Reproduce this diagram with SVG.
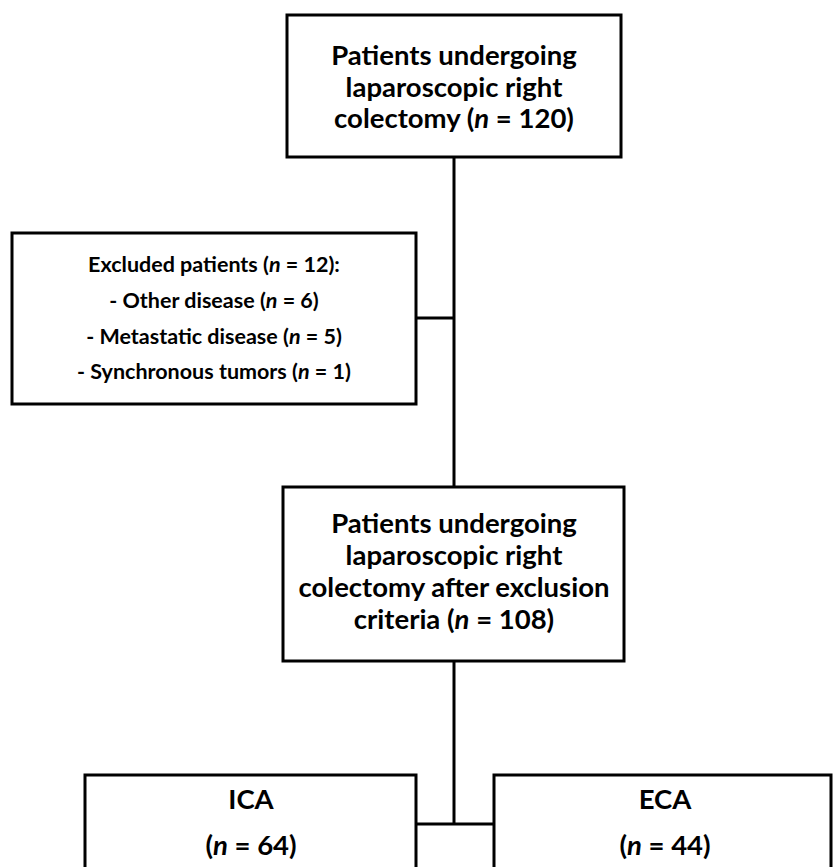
<svg xmlns="http://www.w3.org/2000/svg" width="833" height="867" viewBox="0 0 833 867">
<style>
.box{fill:#fff;stroke:#000;stroke-width:3}
.ln{fill:none;stroke:#000;stroke-width:3}
text{font-family:Lato,"Open Sans","Liberation Sans",sans-serif;font-weight:bold;fill:#000;text-anchor:middle}
.big{font-size:27.5px}
.sm{font-size:21.5px}
</style>
<rect width="833" height="867" fill="#fff"/>
<g id="connectors">
<path class="ln" d="M454,157 V487"/>
<path class="ln" d="M416,318 H454"/>
<path class="ln" d="M454,661 V824"/>
<path class="ln" d="M416,824 H494"/>
</g>
<g id="top">
<rect class="box" x="287" y="15" width="334" height="142"/>
<text class="big" x="454" y="65">Patients undergoing</text>
<text class="big" x="454" y="97">laparoscopic right</text>
<text class="big" x="454" y="128">colectomy (<tspan font-style="italic">n</tspan> = 120)</text>
</g>
<g id="excluded">
<rect class="box" x="12" y="233" width="404" height="171"/>
<text class="sm" x="214" y="272">Excluded patients (<tspan font-style="italic">n</tspan> = 12):</text>
<text class="sm" x="214" y="308">- Other disease (<tspan font-style="italic">n</tspan> = 6)</text>
<text class="sm" x="214" y="344">- Metastatic disease (<tspan font-style="italic">n</tspan> = 5)</text>
<text class="sm" x="214" y="379">- Synchronous tumors (<tspan font-style="italic">n</tspan> = 1)</text>
</g>
<g id="middle">
<rect class="box" x="283" y="487" width="341" height="174"/>
<text class="big" x="454" y="533">Patients undergoing</text>
<text class="big" x="454" y="565">laparoscopic right</text>
<text class="big" x="454" y="597">colectomy after exclusion</text>
<text class="big" x="454" y="629">criteria (<tspan font-style="italic">n</tspan> = 108)</text>
</g>
<g id="ica">
<path class="box" d="M85,870 V775 H416 V870"/>
<text class="big" x="251" y="809">ICA</text>
<text class="big" x="251" y="855">(<tspan font-style="italic">n</tspan> = 64)</text>
</g>
<g id="eca">
<path class="box" d="M494,870 V775 H831 V870"/>
<text class="big" x="665" y="809">ECA</text>
<text class="big" x="665" y="855">(<tspan font-style="italic">n</tspan> = 44)</text>
</g>
</svg>
